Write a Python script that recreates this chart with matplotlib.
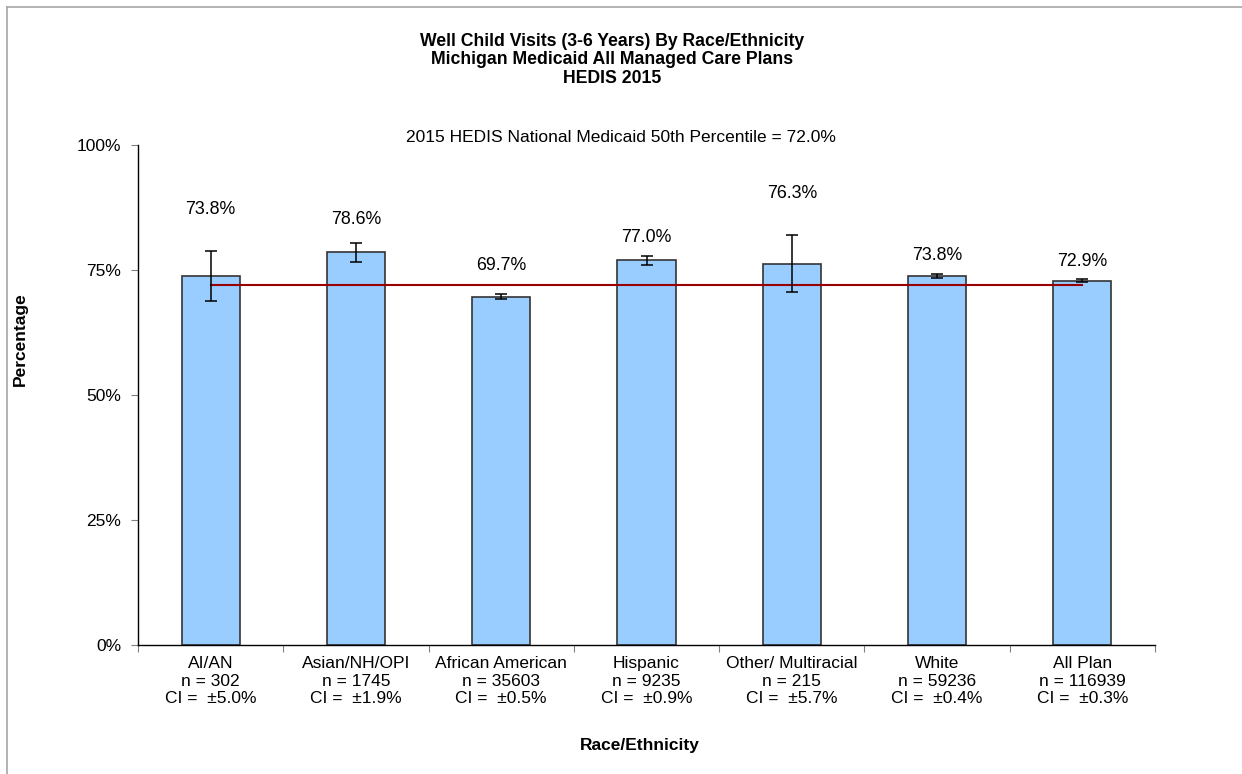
import matplotlib
matplotlib.use('Agg')
import matplotlib.pyplot as plt
from matplotlib.lines import Line2D
import numpy as np

# data
categories = ['AI/AN', 'Asian/NH/OPI', 'African American', 'Hispanic',
              'Other/ Multiracial', 'White', 'All Plan']
rates = [73.8, 78.6, 69.7, 77.0, 76.3, 73.8, 72.9]
n_counts = [302, 1745, 35603, 9235, 215, 59236, 116939]
ci = [5.0, 1.9, 0.5, 0.9, 5.7, 0.4, 0.3]
benchmark = 72.0

# layout: heights (in %) where the value labels sit
label_y = [87.0, 85.2, 76.0, 81.6, 90.4, 77.8, 76.8]

plt.rcParams['font.family'] = ['Liberation Sans', 'DejaVu Sans']
FS = 12.5

fig = plt.figure(figsize=(12.42, 7.74), dpi=100)
ax = fig.add_axes([138 / 1242, 129 / 774, 1017 / 1242, 500 / 774])

x = np.arange(len(categories))
ax.bar(x, rates, width=0.4, color='#99CCFF', edgecolor='#333333',
       linewidth=1.2, zorder=2)
ax.plot([x[0], x[-1]], [benchmark, benchmark], color='#990000',
        linewidth=1.5, zorder=3)
ax.errorbar(x, rates, yerr=ci, fmt='none', ecolor='black', elinewidth=1.1,
            capsize=4.5, capthick=1.1, zorder=4)

for xi, r, ly in zip(x, rates, label_y):
    ax.text(xi, ly, f'{r:.1f}%', ha='center', va='center', fontsize=12.8)

ax.set_xlim(-0.5, len(categories) - 0.5)
ax.set_ylim(0, 100)
ax.set_yticks([0, 25, 50, 75, 100])
ax.set_yticklabels(['0%', '25%', '50%', '75%', '100%'], fontsize=FS)
ax.tick_params(axis='y', length=5, color='#808080', pad=7)

# boundary ticks (major) + category labels (minor)
ax.set_xticks(np.arange(-0.5, len(categories), 1.0))
ax.set_xticklabels([])
ax.tick_params(axis='x', which='major', length=5, color='#808080')
ax.set_xticks(x, minor=True)
ax.set_xticklabels([f'{c}\nn = {n}\nCI =  \u00b1{e:.1f}%'
                    for c, n, e in zip(categories, n_counts, ci)],
                   minor=True, fontsize=FS)
ax.tick_params(axis='x', which='minor', length=0, pad=8)

for s in ['top', 'right']:
    ax.spines[s].set_visible(False)
ax.spines['left'].set_linewidth(1.0)
ax.spines['bottom'].set_linewidth(1.0)

ax.set_ylabel('Percentage', fontsize=FS, fontweight='bold')
ax.yaxis.set_label_coords(-0.108, 0.612)
ax.set_xlabel('Race/Ethnicity', fontsize=FS, fontweight='bold')
ax.xaxis.set_label_coords(0.4936, -0.186)

fig.text(612 / 1242, 1 - 60 / 774,
         'Well Child Visits (3-6 Years) By Race/Ethnicity\n'
         'Michigan Medicaid All Managed Care Plans\nHEDIS 2015',
         ha='center', va='center', fontsize=12.7, fontweight='bold',
         linespacing=1.15)
fig.text(621 / 1242, 1 - 137 / 774,
         f'2015 HEDIS National Medicaid 50th Percentile = {benchmark:.1f}%',
         ha='center', va='center', fontsize=FS)

# chart-area border (only top/left visible in the crop)
fig.add_artist(Line2D([6.5 / 1242, 6.5 / 1242], [0, 1 - 6.5 / 774],
                      transform=fig.transFigure, color='#A6A6A6', lw=1.2))
fig.add_artist(Line2D([6.5 / 1242, 1], [1 - 6.5 / 774, 1 - 6.5 / 774],
                      transform=fig.transFigure, color='#A6A6A6', lw=1.2))

fig.savefig('out.png', dpi=100)
